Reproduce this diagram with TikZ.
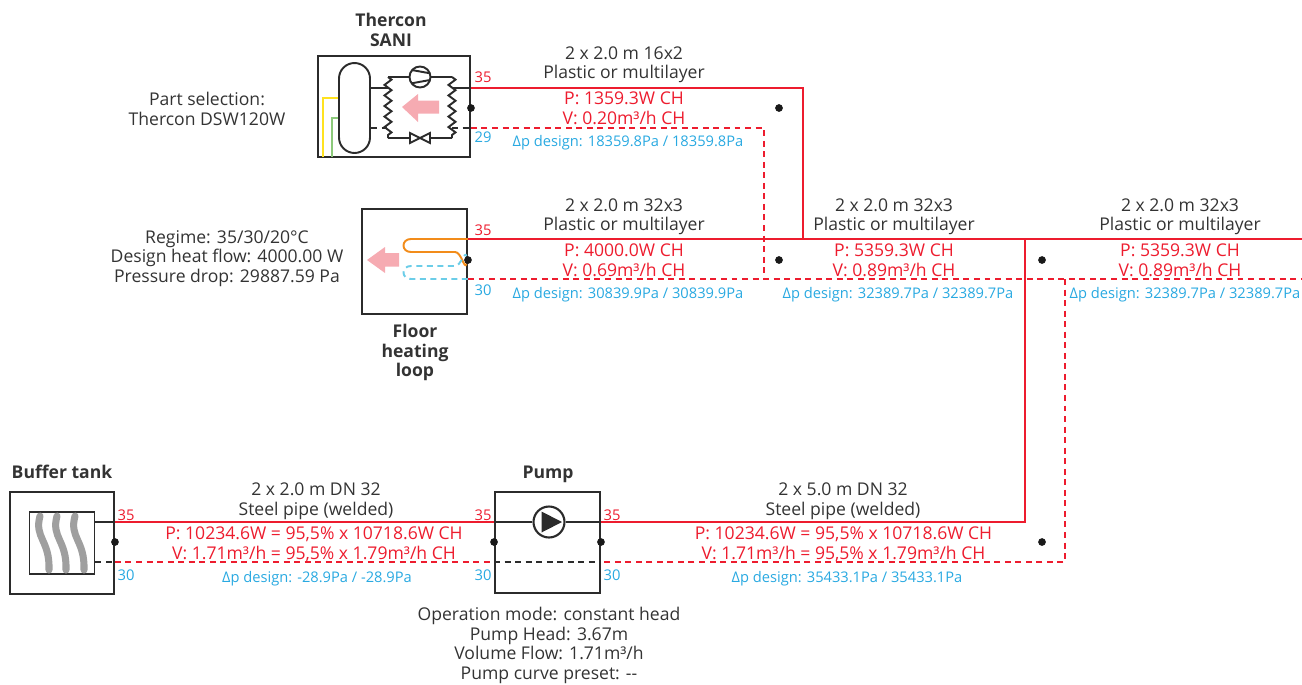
\documentclass[tikz,border=0pt]{standalone}
\usepackage{fontspec}
\setmainfont{Open Sans}
\usetikzlibrary{positioning,calc,decorations.pathmorphing}
\definecolor{pipered}{HTML}{ED1C2E}
\definecolor{tempblue}{HTML}{29A9E1}
\definecolor{txtgray}{HTML}{333333}
\definecolor{linegray}{HTML}{2B2B2B}
\definecolor{heatpink}{HTML}{F6ABB2}
\definecolor{loopblue}{HTML}{6BCDE8}
\definecolor{looporange}{HTML}{F28C1A}
\definecolor{drainyellow}{HTML}{FFE21F}
\definecolor{draingreen}{HTML}{8CC97A}
\tikzset{
  unitbox/.style={draw=linegray,line width=1.1pt,inner sep=0pt},
  txt/.style={align=center,text=txtgray,font=\fontsize{10}{11.2}\selectfont,inner sep=0pt,yshift=-0.9pt},
  boldtxt/.style={txt,font=\fontsize{10}{11.2}\selectfont\bfseries},
  redtxt/.style={txt,text=pipered},
  bluetxt/.style={txt,text=tempblue,font=\fontsize{8.35}{11}\selectfont},
  redtemp/.style={inner sep=0pt,text=pipered,font=\fontsize{8.4}{10}\selectfont},
  bluetemp/.style={inner sep=0pt,text=tempblue,font=\fontsize{8.4}{10}\selectfont},
  supply/.style={draw=pipered,line width=1.1pt},
  return/.style={draw=pipered,line width=1.1pt,dash pattern=on 3.4pt off 2.6pt},
  inner/.style={draw=linegray,line width=1.1pt},
  innerdash/.style={inner,dash pattern=on 3.4pt off 2.6pt},
  coil/.style={inner,decorate,decoration={zigzag,segment length=6pt,amplitude=2pt}},
  junction/.style={circle,fill=black!90,minimum size=4.4pt,inner sep=0pt},
  heatarrow/.style={fill=heatpink,draw=none},
}
\begin{document}
\begin{tikzpicture}[x=0.02cm,y=-0.02cm]
    \useasboundingbox (0,0) rectangle (1302,684);

    % Units
    \node[unitbox,minimum width=3.04cm,minimum height=2.02cm] (sani) at (394,106.5) {};
    \node[unitbox,minimum width=2.10cm,minimum height=2.10cm] (floor) at (414.5,261.5) {};
    \node[unitbox,minimum width=2.08cm,minimum height=2.04cm] (buffer) at (62,543) {};
    \node[unitbox,minimum width=2.10cm,minimum height=2.02cm] (pump) at (547.5,542.5) {};

    % Pipe corners
    \coordinate (S1) at (sani.east |- 0,88);
    \coordinate (R1) at (sani.east |- 0,128);
    \coordinate (S2) at (floor.east |- 0,239);
    \coordinate (R2) at (floor.east |- 0,279);
    \coordinate (S3) at (803,239);
    \coordinate (R3) at (764,279);
    \coordinate (S4) at (1025,239);
    \coordinate (R4) at (1065,279);
    \coordinate (S5) at (1302,239);
    \coordinate (R5) at (1302,279);
    \coordinate (S6) at (pump.east |- 0,522);
    \coordinate (R6) at (pump.east |- 0,562);
    \coordinate (S7) at (pump.west |- 0,522);
    \coordinate (R7) at (pump.west |- 0,562);
    \coordinate (S8) at (buffer.east |- 0,522);
    \coordinate (R8) at (buffer.east |- 0,562);

    % Pipes
    \draw[supply] (S1) -| (S3);
    \draw[return] (R1) -| (R3);
    \draw[supply] (S2) -- (S3) -- (S4) -- (S5);
    \draw[return] (R2) -- (R3) -- (R4) -- (R5);
    \draw[supply] (S4) |- (S6);
    \draw[return] (R4) |- (R6);
    \draw[supply] (S8) -- (S7);
    \draw[return] (R8) -- (R7);

    % Junction dots
    \node[junction] (d1) at (sani.east |- 0,108) {};
    \node[junction] (d2) at (floor.east |- 0,260) {};
    \node[junction] (d3) at (buffer.east |- 0,542) {};
    \node[junction] (d4) at (pump.west |- 0,542) {};
    \node[junction] (d5) at (pump.east |- 0,542) {};
    \node[junction] (d6) at (779,108) {};
    \node[junction] (d7) at (779,260) {};
    \node[junction] (d8) at (1042,260) {};
    \node[junction] (d9) at (1042,542) {};

    % Heat pump
    \draw[draw=drainyellow,line width=1.1pt] (339,98) -| (323,157);
    \draw[draw=draingreen,line width=1.1pt] (339,118) -| (332,157);
    \node[draw=linegray,fill=white,line width=1.1pt,rounded corners=0.31cm,minimum width=0.62cm,minimum height=1.8cm,inner sep=0pt] (store) at (354.5,108) {};
    \node[circle,draw=linegray,line width=1.1pt,minimum size=0.42cm,inner sep=0pt] (comp) at (420,77) {};
    \draw[inner] (411.7,70) -- (430,73.3) (411.7,83.3) -- (430,80);
    \draw[inner] (410,133) -- (430,143) -- (430,133) -- (410,143) -- cycle;
    \coordinate (CL1) at (388,77);
    \coordinate (CL2) at (388,138);
    \coordinate (CR1) at (452,77);
    \coordinate (CR2) at (452,138);
    \draw[coil] (CL1) -- (CL2);
    \draw[coil] (CR1) -- (CR2);
    \draw[inner] (CL1) -- (comp) -- (CR1);
    \draw[inner] (CL2) -- (410,138) (430,138) -- (CR2);
    \draw[inner] (store.east |- 0,88) -- (388,88);
    \draw[inner] (452,88) -- (S1);
    \draw[innerdash] (store.east |- 0,128) -- (388,128);
    \draw[innerdash] (452,128) -- (R1);
    \draw[heatarrow] (439,100.5) -- (418,100.5) -- (418,94) -- (402,107) -- (418,122) -- (418,113.5) -- (439,113.5) -- cycle;

    % Floor loop
    \draw[draw=looporange,line width=1.1pt] (S2) -- (411,239) .. controls (401,239) and (401,252) .. (411,252) -- (455,252) to[out=0,in=-110] (d2);
    \draw[draw=loopblue,line width=1.1pt,dash pattern=on 3.4pt off 2.6pt] (R2) -- (411,279) .. controls (401,279) and (401,266) .. (411,266) -- (455,266) to[out=0,in=110] (d2);
    \draw[heatarrow] (399,253) -- (385,253) -- (385,247) -- (367,260) -- (385,273) -- (385,266.5) -- (399,266.5) -- cycle;

    % Buffer tank
    \node[draw=linegray,fill=white,line width=1.1pt,minimum width=1.3cm,minimum height=1.24cm,inner sep=0pt] (tank) at (62,543) {};
    \foreach \x in {40,57,75}
      \draw[draw=gray!75,line width=4pt,line cap=round] (\x,516) .. controls (\x-6,538) and (\x+10,540) .. (\x+9,570);
    \draw[inner] (tank.east |- 0,522) -- (S8);
    \draw[innerdash] (tank.east |- 0,562) -- (R8);

    % Pump
    \node[circle,draw=linegray,line width=1.2pt,minimum size=0.62cm,inner sep=0pt] (rotor) at (549,522) {};
    \fill[linegray] (541.5,511.5) -- (562,522) -- (541.5,532.5) -- cycle;
    \draw[inner] (S7) -- (rotor) -- (S6);
    \draw[innerdash] (R7) -- (R6);

    % Temperatures
    \node[redtemp] (t1) at (483,77) {35};
    \node[bluetemp] (t2) at (483,137) {29};
    \node[redtemp] (t3) at (483,230) {35};
    \node[bluetemp] (t4) at (483,290) {30};
    \node[redtemp] (t5) at (126,515) {35};
    \node[bluetemp] (t6) at (126,575) {30};
    \node[redtemp] (t7) at (483,515) {35};
    \node[bluetemp] (t8) at (483,575) {30};
    \node[redtemp] (t9) at (612,515) {35};
    \node[bluetemp] (t10) at (612,575) {30};

    % Unit labels
    \node[boldtxt] (saniname) at (391,28.5) {Thercon\\SANI};
    \node[boldtxt] (floorname) at (415,351) {Floor\\heating\\loop};
    \node[boldtxt] (buffername) at (62,470) {Buffer tank};
    \node[boldtxt] (pumpname) at (548,472.5) {Pump};
    \node[txt] (saniinfo) at (207,107) {Part selection:\\Thercon DSW120W};
    \node[txt] (floorinfo) at (227,257) {Regime: 35/30/20°C\\Design heat flow: 4000.00 W\\Pressure drop: 29887.59 Pa};
    \node[txt] (pumpinfo) at (549,644) {Operation mode: constant head\\Pump Head: 3.67m\\Volume Flow: 1.71m³/h\\Pump curve preset: -{}-};

    % Pipe labels
    \node[txt] (a1) at (624,63) {2 x 2.0 m 16x2\\Plastic or multilayer};
    \node[redtxt] (b1) at (624,107) {P: 1359.3W CH\\V: 0.20m³/h CH};
    \node[bluetxt] (c1) at (628,141) {Δp design: 18359.8Pa / 18359.8Pa};
    \node[txt] (a2) at (624,215) {2 x 2.0 m 32x3\\Plastic or multilayer};
    \node[redtxt] (b2) at (624,259) {P: 4000.0W CH\\V: 0.69m³/h CH};
    \node[bluetxt] (c2) at (628,293) {Δp design: 30839.9Pa / 30839.9Pa};
    \node[txt] (a3) at (894,215) {2 x 2.0 m 32x3\\Plastic or multilayer};
    \node[redtxt] (b3) at (894,259) {P: 5359.3W CH\\V: 0.89m³/h CH};
    \node[bluetxt] (c3) at (898,293) {Δp design: 32389.7Pa / 32389.7Pa};
    \node[txt] (a4) at (1180,215) {2 x 2.0 m 32x3\\Plastic or multilayer};
    \node[redtxt] (b4) at (1180,259) {P: 5359.3W CH\\V: 0.89m³/h CH};
    \node[bluetxt] (c4) at (1185,293) {Δp design: 32389.7Pa / 32389.7Pa};
    \node[txt] (a5) at (316,499.5) {2 x 2.0 m DN 32\\Steel pipe (welded)};
    \node[redtxt] (b5) at (314,543) {P: 10234.6W = 95,5\% x 10718.6W CH\\V: 1.71m³/h = 95,5\% x 1.79m³/h CH};
    \node[bluetxt] (c5) at (317,577) {Δp design: -28.9Pa / -28.9Pa};
    \node[txt] (a6) at (843,499.5) {2 x 5.0 m DN 32\\Steel pipe (welded)};
    \node[redtxt] (b6) at (843.5,543) {P: 10234.6W = 95,5\% x 10718.6W CH\\V: 1.71m³/h = 95,5\% x 1.79m³/h CH};
    \node[bluetxt] (c6) at (847,577) {Δp design: 35433.1Pa / 35433.1Pa};
\end{tikzpicture}
\end{document}
